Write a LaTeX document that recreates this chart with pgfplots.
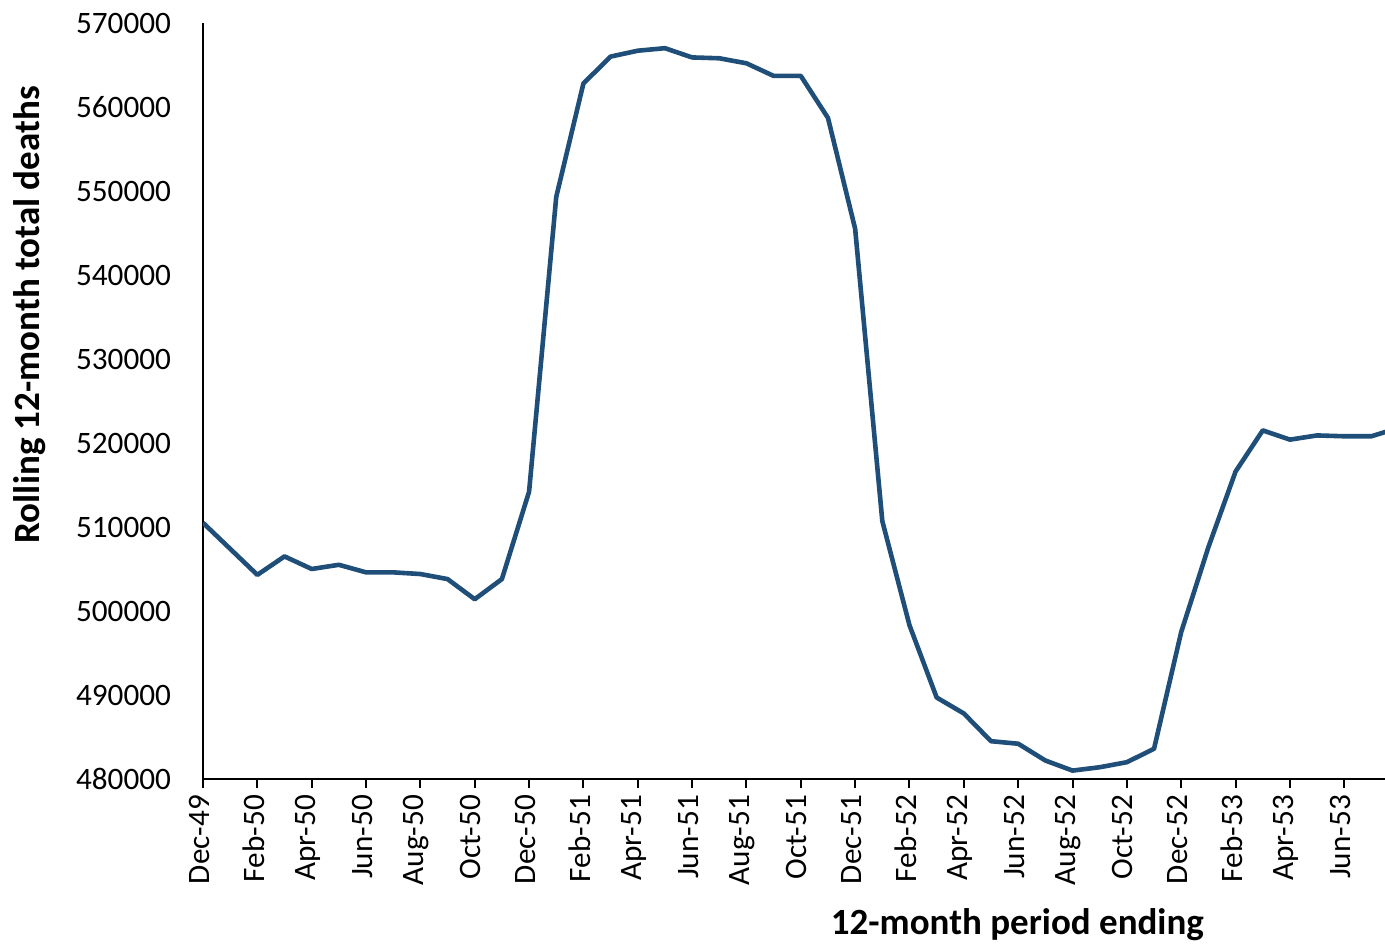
\documentclass[border=0pt]{standalone}
\usepackage{fontspec}
\setmainfont{Carlito}
\usepackage{pgfplots}
\pgfplotsset{compat=1.18}
\definecolor{lineblue}{RGB}{31,78,121}
\pgfplotstableread{
x y
0 510500
1 507400
2 504300
3 506500
4 505000
5 505500
6 504600
7 504600
8 504400
9 503800
10 501400
11 503800
12 514200
13 549300
14 562800
15 566000
16 566700
17 567000
18 565900
19 565800
20 565200
21 563700
22 563700
23 558700
24 545500
25 510700
26 498300
27 489700
28 487800
29 484500
30 484200
31 482200
32 481000
33 481400
34 482000
35 483600
36 497500
37 507600
38 516600
39 521500
40 520400
41 520900
42 520800
43 520800
44 521800
}\deaths
\begin{document}
\begin{tikzpicture}
\useasboundingbox (0,0) rectangle (692.5pt,473.5pt);
\begin{axis}[
  at={(101.5pt,84pt)}, anchor=south west,
  width=591pt, height=378pt, scale only axis,
  xmin=0, xmax=43.5, ymin=480000, ymax=570000,
  axis x line=bottom, axis y line=left,
  axis line style={-, line width=1pt, black},
  xtick={0,2,...,42},
  xticklabels={Dec-49,Feb-50,Apr-50,Jun-50,Aug-50,Oct-50,Dec-50,Feb-51,Apr-51,Jun-51,Aug-51,Oct-51,Dec-51,Feb-52,Apr-52,Jun-52,Aug-52,Oct-52,Dec-52,Feb-53,Apr-53,Jun-53},
  xtick style={black, line width=1pt},
  major tick length=4.5pt, tick align=outside,
  ytick={480000,490000,...,570000},
  ytick style={draw=none},
  scaled y ticks=false,
  yticklabel style={/pgf/number format/fixed, /pgf/number format/precision=0, /pgf/number format/1000 sep={}},
  /pgf/number format/assume math mode=true,
  tick label style={font=\fontsize{15.6}{18}\selectfont, text=black},
  x tick label style={rotate=90, anchor=east, yshift=2pt},
  y tick label style={anchor=east, xshift=-8pt},
  xlabel={\textbf{12-month period ending}},
  ylabel={\textbf{Rolling 12-month total deaths}},
  label style={font=\fontsize{18.5}{22}\selectfont},
  xlabel style={at={(axis description cs:0.689,-0.193)}, anchor=center},
  ylabel style={at={(axis description cs:-0.1464,0.614)}, anchor=center, rotate=0},
  clip=true,
]
\addplot[lineblue, line width=2.3pt, line join=round] table[x=x,y=y] {\deaths};
\end{axis}
\end{tikzpicture}
\end{document}
